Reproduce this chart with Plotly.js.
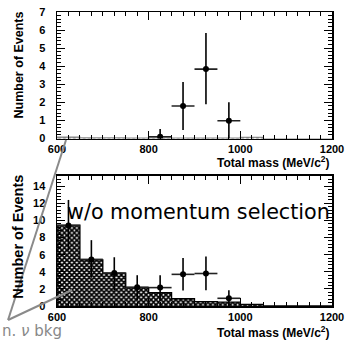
<!DOCTYPE html>
<html><head><meta charset="utf-8">
<script src="https://cdn.plot.ly/plotly-3.0.1.min.js"></script>
<style>html,body{margin:0;padding:0;background:#fff}</style>
</head><body><div id="c" style="width:348px;height:342px"></div>
<script>
// bin centres (MeV/c^2), bin width 50
const binCenters = [625,675,725,775,825,875,925,975,1025,1075,1125,1175];
const binWidth = 50;
// background (neutrino bkg) histograms
const bkgTop    = [0.08,0.04,0.03,0.02,0.03,0.02,0.02,0.02,0.07,0,0,0];
const bkgBottom = [9.45,5.4,3.85,2.15,1.55,0.85,0.5,0.45,0.2,0,0,0];
// data points, top panel (with momentum selection)
const dataTopX = [825,875,925,975];
const dataTopY = [0.1,1.8,3.84,0.98];
const dataTopErrUp = [0.42,1.32,2.0,1.02];
const dataTopErrDn = [0.1,1.33,1.95,0.98];
// data points, bottom panel (w/o momentum selection)
const dataBotX = [625,675,725,775,825,875,925,975];
const dataBotY = [9.4,5.45,3.85,2.2,2.15,3.7,3.8,0.9];
const dataBotErrUp = [3.0,2.25,1.85,1.4,1.45,1.9,2.0,0.95];
const dataBotErrDn = [2.9,2.15,2.05,1.5,1.55,1.9,1.95,0.9];
// tick labels
const xTicks = [600,800,1000,1200];
const yTicksTop = [0,1,2,3,4,5,6,7];
const yTicksBot = [0,2,4,6,8,10,12,14];

const bold = v => '<b>'+v+'</b>';
function stepLine(vals){
  const xs=[binCenters[0]-binWidth/2], ys=[0];
  binCenters.forEach((c,i)=>{xs.push(c-binWidth/2); ys.push(vals[i]);});
  xs.push(binCenters[binCenters.length-1]+binWidth/2); ys.push(vals[vals.length-1]);
  return {xs,ys};
}
const sTop = stepLine(bkgTop), sBot = stepLine(bkgBottom);
const pat = {shape:'x', fgcolor:'#000', bgcolor:'#fff', size:3.5, solidity:0.75};
const traces = [
  {type:'bar', x:binCenters, y:bkgTop, width:binWidth, xaxis:'x', yaxis:'y',
   marker:{color:'#fff', pattern:Object.assign({},pat,{fgcolor:'#777'}), line:{width:0}}, hoverinfo:'skip'},
  {type:'scatter', mode:'lines', x:sTop.xs, y:sTop.ys, line:{shape:'hv', color:'#888', width:1.2}, xaxis:'x', yaxis:'y'},
  {type:'scatter', mode:'markers', x:dataTopX, y:dataTopY, xaxis:'x', yaxis:'y',
   marker:{color:'#000', size:6},
   error_x:{type:'constant', value:binWidth/2, color:'#222', thickness:1.6, width:0},
   error_y:{type:'data', symmetric:false, array:dataTopErrUp, arrayminus:dataTopErrDn, color:'#000', thickness:1.6, width:0}},
  {type:'bar', x:binCenters, y:bkgBottom, width:binWidth, xaxis:'x2', yaxis:'y2',
   marker:{color:'#fff', pattern:pat, line:{width:0}}, hoverinfo:'skip'},
  {type:'scatter', mode:'lines', x:sBot.xs, y:sBot.ys, line:{shape:'hv', color:'#000', width:1.3}, xaxis:'x2', yaxis:'y2'},
  {type:'scatter', mode:'markers', x:dataBotX, y:dataBotY, xaxis:'x2', yaxis:'y2',
   marker:{color:'#000', size:6},
   error_x:{type:'constant', value:binWidth/2, color:'#222', thickness:1.6, width:0},
   error_y:{type:'data', symmetric:false, array:dataBotErrUp, arrayminus:dataBotErrDn, color:'#000', thickness:1.6, width:0}}
];
const tf = {family:'Liberation Sans, Arial, sans-serif', size:11, color:'#000'};
const xax = {range:[600,1200], tickmode:'array', tickvals:xTicks, ticktext:xTicks.map(bold),
  ticks:'inside', ticklen:8, tickwidth:1, tickcolor:'#000',
  minor:{dtick:25, ticks:'inside', ticklen:4, tickcolor:'#000'},
  showline:true, linecolor:'#000', linewidth:1.5, mirror:'allticks', showgrid:false, zeroline:false, tickfont:tf};
const yax = {ticks:'inside', ticklen:8, tickcolor:'#000', tickmode:'array',
  showline:true, linecolor:'#000', linewidth:1.5, mirror:'allticks', showgrid:false, zeroline:false,
  tickfont:tf, ticklabelstandoff:8};
const arrowLine = {color:'#8a8a8a', width:2};
const layout = {
  width:348, height:342, margin:{l:57, r:16, t:12, b:36},
  paper_bgcolor:'#fff', plot_bgcolor:'#fff', showlegend:false, bargap:0,
  xaxis:Object.assign({}, xax, {anchor:'y', domain:[0,1]}),
  xaxis2:Object.assign({}, xax, {anchor:'y2', domain:[0,1]}),
  yaxis:Object.assign({}, yax, {domain:[0.5697,1], range:[0,7], tickvals:yTicksTop, ticktext:yTicksTop.map(bold),
    minor:{dtick:0.2, ticks:'inside', ticklen:4, tickcolor:'#000'}, anchor:'x'}),
  yaxis2:Object.assign({}, yax, {domain:[0,0.4422], range:[0,15.2], tickvals:yTicksBot, ticktext:yTicksBot.map(bold),
    minor:{dtick:0.4, ticks:'inside', ticklen:4, tickcolor:'#000'}, anchor:'x2'}),
  shapes:[
    {type:'line', xref:'paper', yref:'paper', x0:-0.178, y0:-0.0476, x1:0.0327, y1:0.5646, line:arrowLine},
    {type:'line', xref:'paper', yref:'paper', x0:-0.178, y0:-0.0476, x1:0.0545, y1:0.0544, line:arrowLine}
  ],
  annotations:[
    {xref:'paper', yref:'paper', x:-0.138, y:1.007, xanchor:'center', yanchor:'top', textangle:-90, showarrow:false,
     text:'<b>Number of Events</b>', font:{family:'Liberation Sans, Arial, sans-serif', size:12.5, color:'#000'}},
    {xref:'paper', yref:'paper', x:-0.14, y:0.455, xanchor:'center', yanchor:'top', textangle:-90, showarrow:false,
     text:'<b>Number of Events</b>', font:{family:'Liberation Sans, Arial, sans-serif', size:14.5, color:'#000'}},
    {xref:'paper', yref:'paper', x:0.996, y:0.49, xanchor:'right', yanchor:'middle', showarrow:false,
     text:'<b>Total mass (MeV/c<sup>2</sup>)</b>', font:{family:'Liberation Sans, Arial, sans-serif', size:12, color:'#000'}},
    {xref:'paper', yref:'paper', x:0.996, y:-0.09, xanchor:'right', yanchor:'middle', showarrow:false,
     text:'<b>Total mass (MeV/c<sup>2</sup>)</b>', font:{family:'Liberation Sans, Arial, sans-serif', size:12, color:'#000'}},
    {xref:'paper', yref:'paper', x:0.03, y:0.32, xanchor:'left', yanchor:'middle', showarrow:false,
     text:'w/o momentum selection', font:{family:'DejaVu Sans, sans-serif', size:20.7, color:'#000'}},
    {xref:'paper', yref:'paper', x:-0.207, y:-0.085, xanchor:'left', yanchor:'middle', showarrow:false,
     text:'n. <i>ν</i> bkg', font:{family:'DejaVu Sans, sans-serif', size:15, color:'#888'}}
  ]
};
Plotly.newPlot('c', traces, layout, {staticPlot:true, displayModeBar:false});
</script></body></html>
